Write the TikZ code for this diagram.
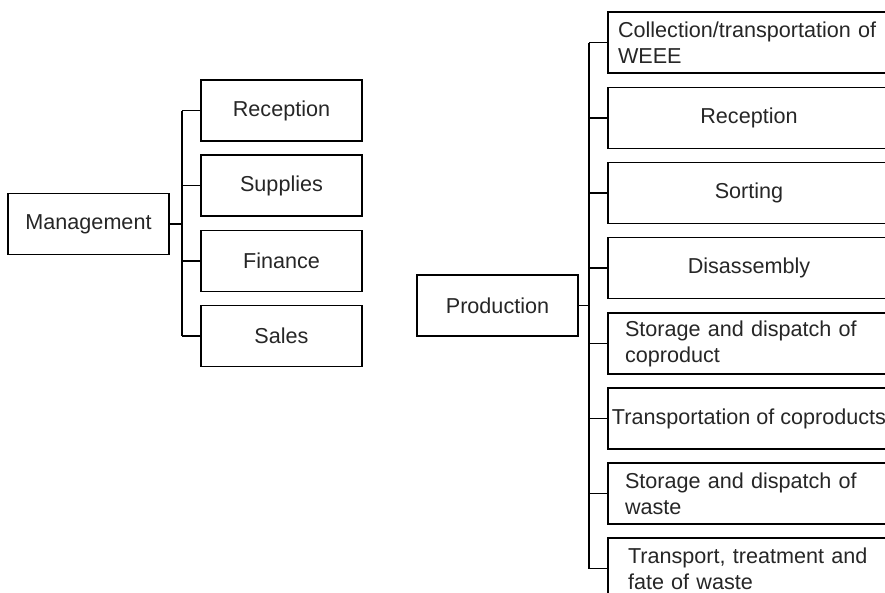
\documentclass[tikz,border=0pt]{standalone}
\usepackage{fontspec}
\setmainfont{Liberation Sans}
\tikzset{
  stage/.style={draw, line width=1.1pt, minimum width=161pt, minimum height=61pt,
    inner sep=0pt, font=\fontsize{21.6}{26}\selectfont, text=black!85},
  wide/.style={stage, minimum width=282pt},
  twoline/.style={wide, align=left, inner xsep=#1},
  link/.style={line width=1.1pt}
}
\begin{document}
\begin{tikzpicture}[x=1pt,y=-1pt]
  \useasboundingbox (0,0) rectangle (885,592);
  \clip (0,0) rectangle (885,592);
  % management side
  \node[stage] (mgmt) at (88.5,224) {Management};
  \node[stage] (rec) at (281.5,110.5) {Reception};
  \node[stage] (sup) at (281.5,185.5) {Supplies};
  \node[stage] (fin) at (281.5,261) {Finance};
  \node[stage] (sal) at (281.5,336) {Sales};
  \coordinate (mbus) at (182,224);
  \draw[link] (mgmt.east) -- (mbus);
  \draw[link] (mbus |- rec.west) -- (mbus |- sal.west);
  \foreach \n in {rec,sup,fin,sal}
    \draw[link] (\n.west) -- (mbus |- \n.west);
  % production side
  \node[stage] (prod) at (497.5,305.5) {Production};
  \node[twoline=10pt, text width=262pt] (coll) at (749,42.5) {Collection/transportation of\\WEEE};
  \node[wide] (prec) at (749,118) {Reception};
  \node[wide] (sort) at (749,193) {Sorting};
  \node[wide] (dis) at (749,268) {Disassembly};
  \node[twoline=17pt, text width=248pt] (stcop) at (749,343.5) {Storage and dispatch of\\coproduct};
  \node[wide] (trcop) at (749,418.5) {Transportation of coproducts};
  \node[twoline=17pt, text width=248pt] (stwas) at (749,493.5) {Storage and dispatch of\\waste};
  \node[twoline=20pt, text width=242pt] (trwas) at (749,568.5) {Transport, treatment and\\fate of waste};
  \coordinate (pbus) at (589,305.5);
  \draw[link] (prod.east) -- (pbus);
  \draw[link] (pbus |- coll.west) -- (pbus |- trwas.west);
  \foreach \n in {coll,prec,sort,dis,stcop,trcop,stwas,trwas}
    \draw[link] (\n.west) -- (pbus |- \n.west);
\end{tikzpicture}
\end{document}
